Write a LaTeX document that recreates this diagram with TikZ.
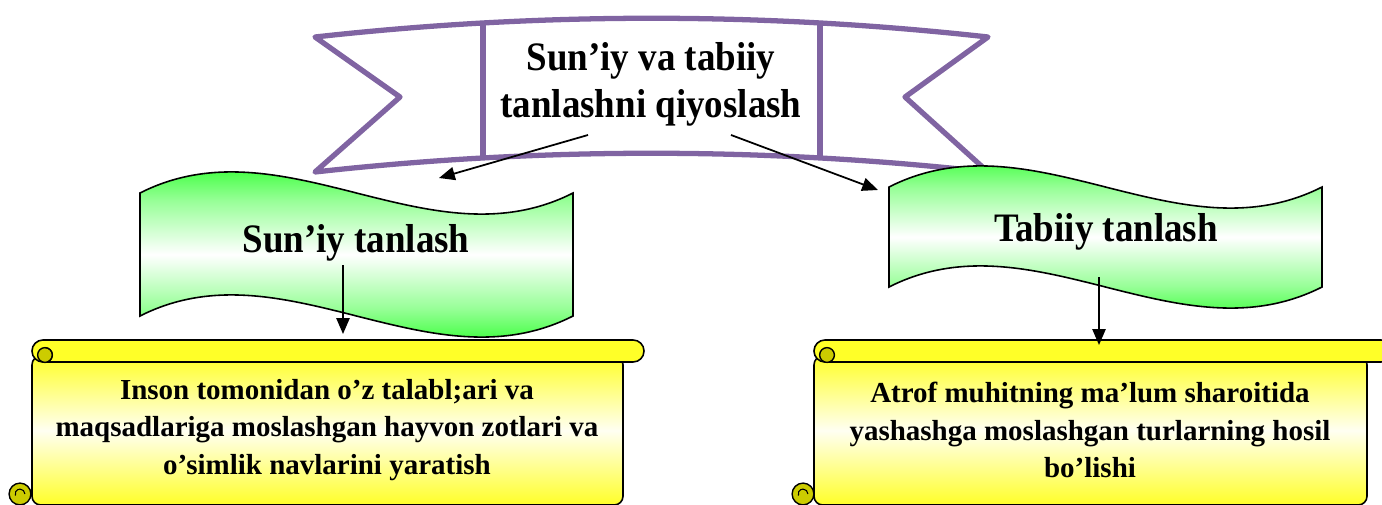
\documentclass[tikz,border=0pt]{standalone}
\usepackage{fontspec}
\setmainfont{Liberation Serif}
\newfontfamily\headfont{Liberation Serif}[FakeStretch=0.915]
\usetikzlibrary{arrows.meta}
\definecolor{ribbonpurple}{RGB}{128,100,162}
\definecolor{wavegreen}{RGB}{25,255,25}
\definecolor{scrollyellow}{RGB}{255,255,40}
\definecolor{curlyellow}{RGB}{204,204,0}
\pgfdeclareverticalshading{wavefill}{100bp}{color(0bp)=(wavegreen); color(31bp)=(wavegreen);
  color(40bp)=(wavegreen!45!white); color(50bp)=(white); color(60bp)=(wavegreen!45!white);
  color(69bp)=(wavegreen); color(100bp)=(wavegreen)}
\tikzset{
  ribbonline/.style={draw=ribbonpurple, line width=3pt, line join=round},
  wavebox/.style={draw=black, line width=0.9pt, shading=wavefill},
  scrollbody/.style={draw=black, line width=0.9pt, top color=scrollyellow, bottom color=scrollyellow, middle color=scrollyellow!6},
  scrollbar/.style={draw=black, line width=0.9pt, fill=scrollyellow},
  curl/.style={draw=black, line width=0.8pt, fill=curlyellow},
  headtext/.style={font=\headfont\fontsize{23}{26.6}\selectfont\bfseries, align=center},
  bodytext/.style={font=\fontsize{16.5}{21.3}\selectfont\bfseries, align=center},
  link/.style={-{Triangle[length=9pt,width=7.5pt]}, line width=1pt}
}
\begin{document}
\begin{tikzpicture}[x=0.02cm, y=-0.02cm]
  \useasboundingbox (0,0) rectangle (1382,504);
  % title ribbon
  \draw[ribbonline] (315,37) .. controls (540,12) and (763,12) .. (988,37) -- (905,97) -- (988,172)
    .. controls (763,147) and (540,147) .. (315,172) -- (400,97) -- cycle;
  \draw[ribbonline] (483,23) -- (483,158);
  \draw[ribbonline] (820,23) -- (820,158);
  \node[headtext] (title) at (651,84) {Sun’iy va tabiiy\\tanlashni qiyoslash};
  % waves
  \draw[wavebox] (140,193) .. controls (284,120) and (429,266) .. (573,193) -- (573,316)
    .. controls (429,389) and (284,243) .. (140,316) -- cycle;
  \draw[wavebox] (889,187) .. controls (1033,114) and (1178,260) .. (1322,187) -- (1322,287)
    .. controls (1178,360) and (1033,214) .. (889,287) -- cycle;
  \node[headtext] (artificial) at (356,243) {Sun’iy tanlash};
  \node[headtext] (natural) at (1106,232) {Tabiiy tanlash};
  % scrolls
  \draw[scrollbody, rounded corners=5pt] (32,356) rectangle (623,505);
  \draw[scrollbar, rounded corners=6.2pt] (32,340) rectangle (644,362);
  \draw[curl] (45,355) circle[radius=4.2pt];
  \draw[line width=0.6pt] (45,355) ++(90:4.2pt) arc[start angle=90, end angle=-60, radius=4.2pt];
  \draw[curl] (20,494) circle[radius=6.2pt];
  \draw[line width=0.6pt] (20,494) ++(0:2.8pt) arc[start angle=0, end angle=200, radius=2.8pt];
  \draw[scrollbody, rounded corners=5pt] (814,356) rectangle (1367,505);
  \draw[scrollbar, rounded corners=6.2pt] (814,340) rectangle (1392,362);
  \draw[curl] (827,355) circle[radius=4.2pt];
  \draw[curl] (803,494) circle[radius=6.2pt];
  \draw[line width=0.6pt] (803,494) ++(0:2.8pt) arc[start angle=0, end angle=200, radius=2.8pt];
  \node[bodytext] (artdesc) at (327,430) {Inson tomonidan o’z talabl;ari va\\maqsadlariga moslashgan hayvon zotlari va\\o’simlik navlarini yaratish};
  \node[bodytext] (natdesc) at (1090,430) {Atrof muhitning ma’lum sharoitida\\yashashga moslashgan turlarning hosil\\bo’lishi};
  % arrows
  \coordinate (t1) at (588,135);
  \coordinate (t2) at (731,135);
  \coordinate (w1) at (439,178);
  \coordinate (w2) at (878,190);
  \coordinate (a1) at (343,265);
  \coordinate (a2) at (343,334);
  \coordinate (n1) at (1099,277);
  \coordinate (n2) at (1099,345);
  \draw[link] (t1) -- (w1);
  \draw[link] (t2) -- (w2);
  \draw[link] (a1) -- (a2);
  \draw[link] (n1) -- (n2);
\end{tikzpicture}
\end{document}
